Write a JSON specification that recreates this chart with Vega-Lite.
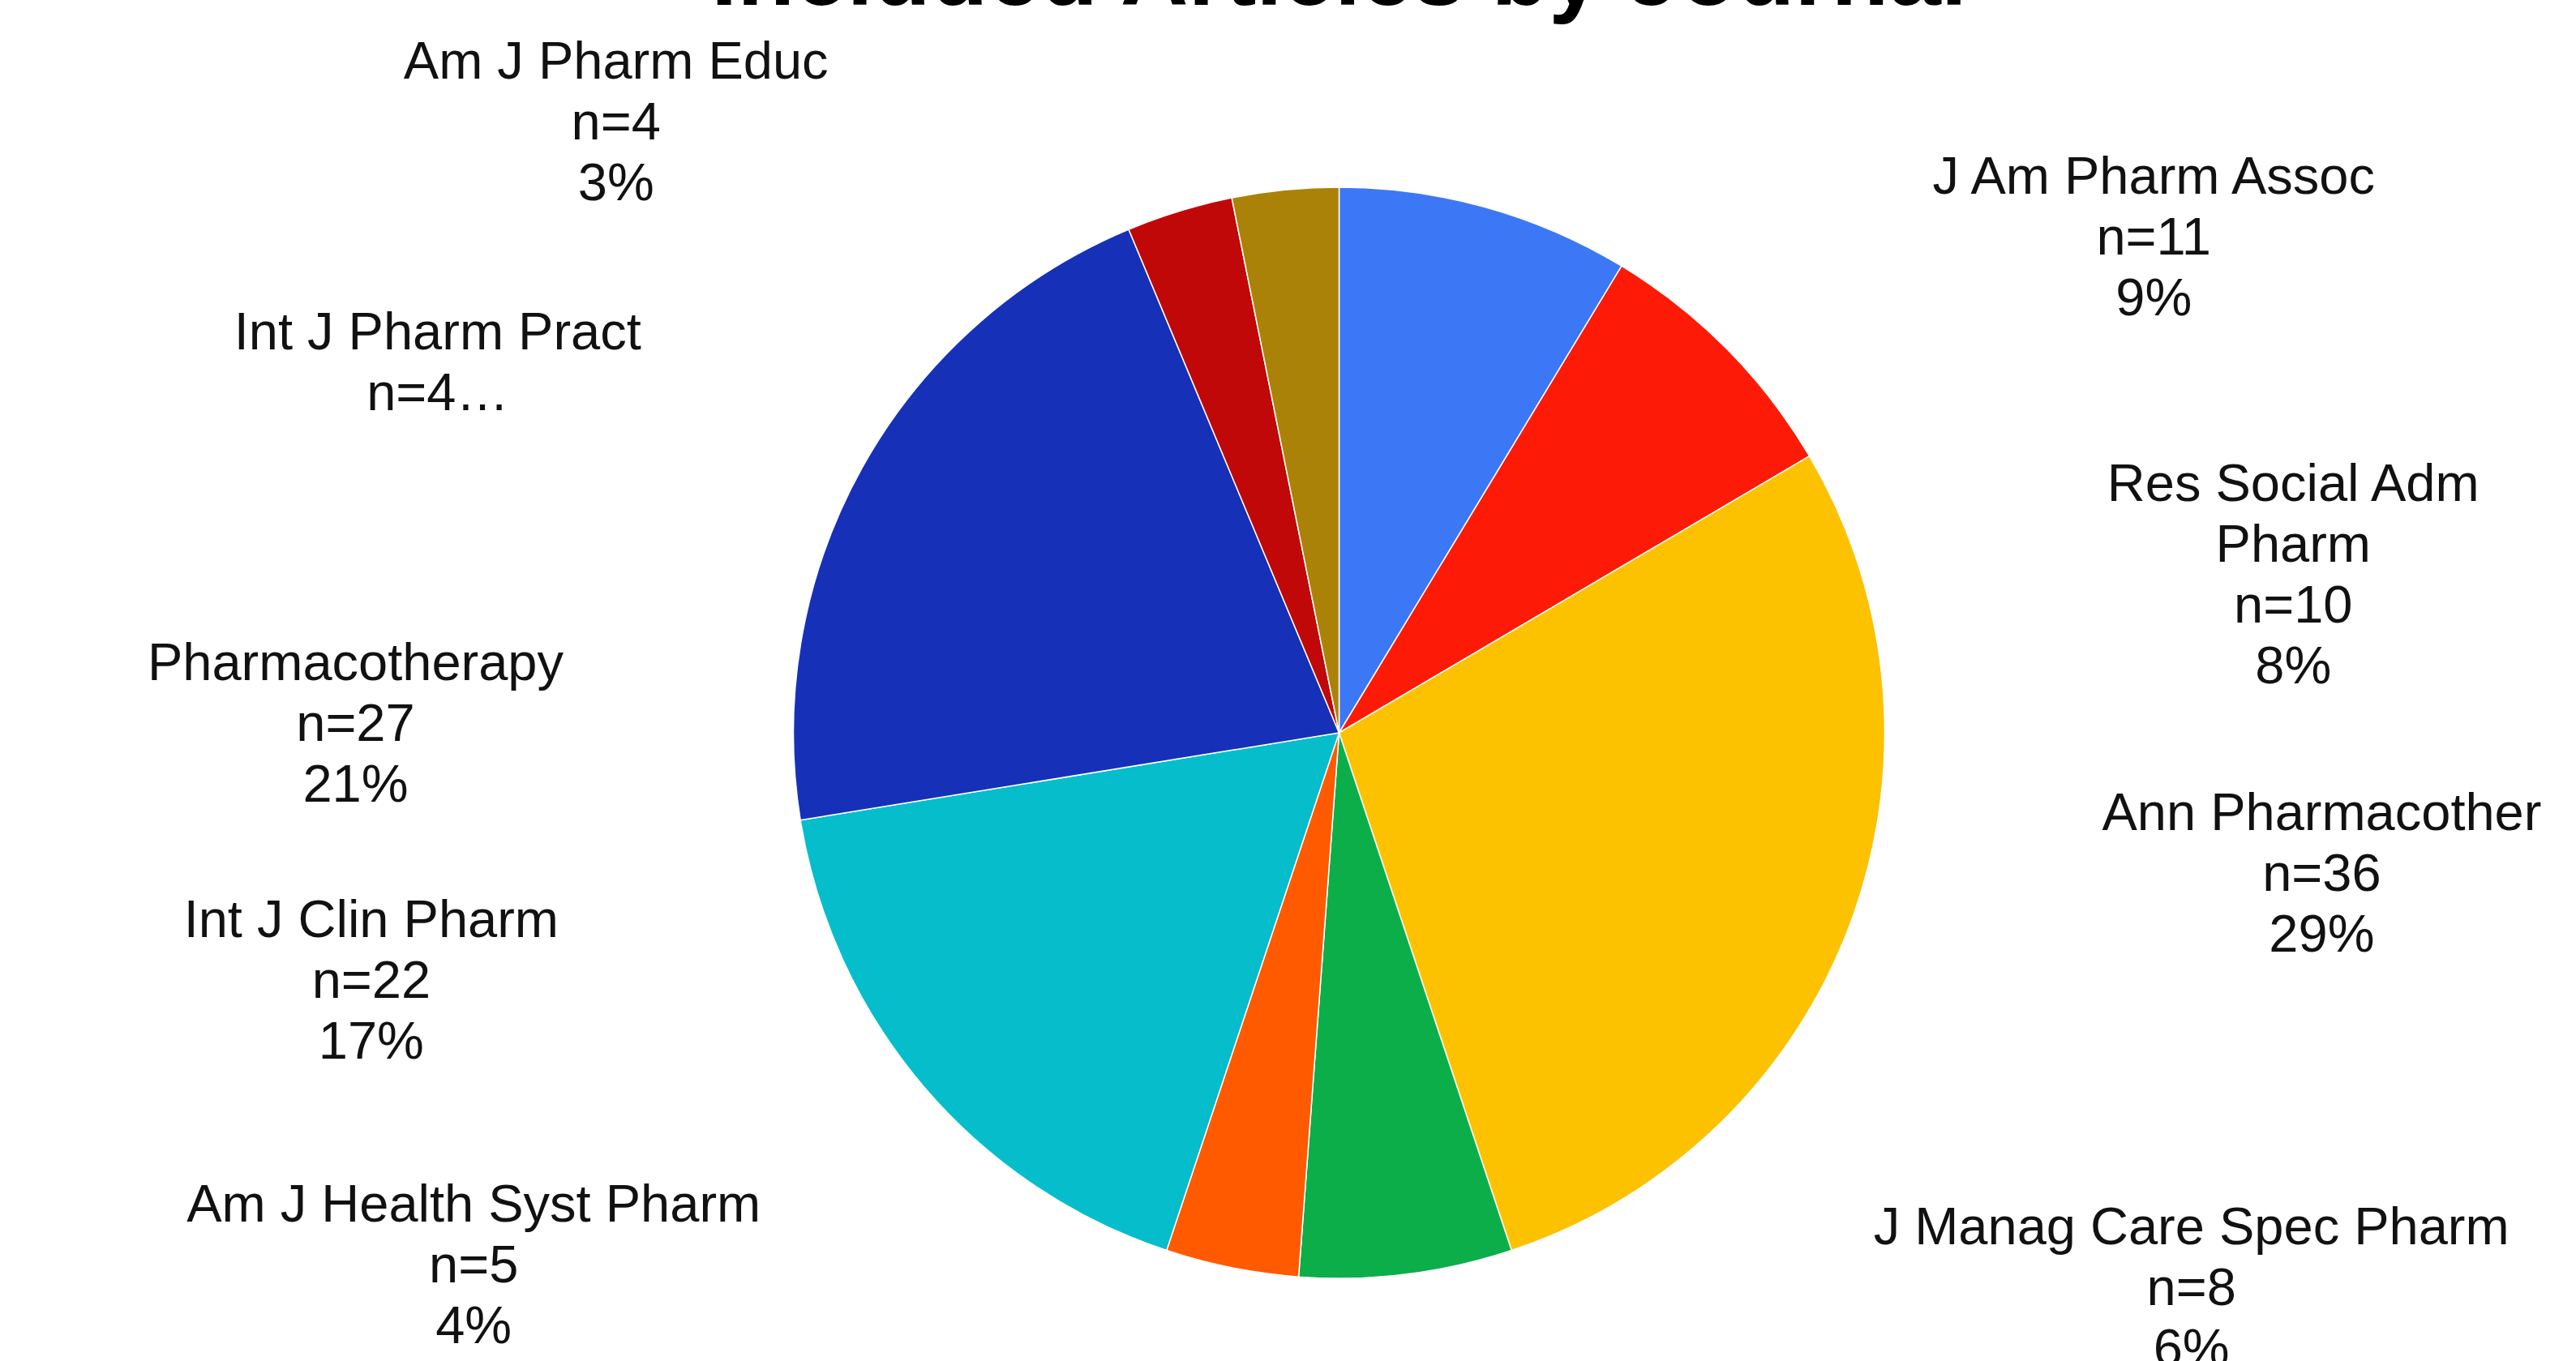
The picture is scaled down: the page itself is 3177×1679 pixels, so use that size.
{
  "$schema": "https://vega.github.io/schema/vega-lite/v6.json",
  "autosize": {"type": "none"},
  "width": 3051,
  "height": 1550,
  "padding": {"top": 129, "left": 126, "right": 0, "bottom": 0},
  "background": "white",
  "title": {
    "text": "Included Articles by Journal",
    "font": "Liberation Sans",
    "fontSize": 116,
    "fontWeight": "bold",
    "color": "#000000",
    "anchor": "middle",
    "offset": 15
  },
  "config": {"view": {"stroke": null}},
  "data": {
    "values": [
      {"idx": 1, "journal": "J Am Pharm Assoc", "n": 11, "pct": 9, "label": "J Am Pharm Assoc\nn=11\n9%"},
      {"idx": 2, "journal": "Res Social Adm Pharm", "n": 10, "pct": 8, "label": "Res Social Adm\nPharm\nn=10\n8%"},
      {"idx": 3, "journal": "Ann Pharmacother", "n": 36, "pct": 29, "label": "Ann Pharmacother\nn=36\n29%"},
      {"idx": 4, "journal": "J Manag Care Spec Pharm", "n": 8, "pct": 6, "label": "J Manag Care Spec Pharm\nn=8\n6%"},
      {"idx": 5, "journal": "Am J Health Syst Pharm", "n": 5, "pct": 4, "label": "Am J Health Syst Pharm\nn=5\n4%"},
      {"idx": 6, "journal": "Int J Clin Pharm", "n": 22, "pct": 17, "label": "Int J Clin Pharm\nn=22\n17%"},
      {"idx": 7, "journal": "Pharmacotherapy", "n": 27, "pct": 21, "label": "Pharmacotherapy\nn=27\n21%"},
      {"idx": 8, "journal": "Int J Pharm Pract", "n": 4, "pct": 3, "label": "Int J Pharm Pract\nn=4…"},
      {"idx": 9, "journal": "Am J Pharm Educ", "n": 4, "pct": 3, "label": "Am J Pharm Educ\nn=4\n3%"}
    ]
  },
  "layer": [
    {
      "mark": {"type": "arc", "radius": 673, "stroke": "#ffffff", "strokeWidth": 1.5},
      "encoding": {
        "theta": {"field": "n", "type": "quantitative", "stack": true},
        "order": {"field": "idx", "type": "quantitative", "sort": "ascending"},
        "color": {
          "field": "journal",
          "type": "nominal",
          "legend": null,
          "scale": {
            "domain": ["J Am Pharm Assoc", "Res Social Adm Pharm", "Ann Pharmacother", "J Manag Care Spec Pharm", "Am J Health Syst Pharm", "Int J Clin Pharm", "Pharmacotherapy", "Int J Pharm Pract", "Am J Pharm Educ"],
            "range": ["#3c78f5", "#fd1a06", "#fcc200", "#0cae4a", "#ff5a00", "#06bdcc", "#1631b8", "#c00808", "#ab8208"]
          }
        }
      }
    },
    {
      "mark": {"type": "text", "radius": 1216, "font": "Liberation Sans", "fontSize": 65, "lineHeight": 75, "lineBreak": "\n", "align": "center", "baseline": "middle", "color": "#111111"},
      "encoding": {
        "theta": {
          "field": "n",
          "type": "quantitative",
          "stack": true,
          "scale": {
            "domain": [0, 16, 39, 63, 64, 81, 105.5, 121, 127],
            "range": [0.7924, 1.3160, 1.6528, 2.1380, 4.1329, 4.5204, 4.7822, 5.1295, 5.6251]
          }
        },
        "order": {"field": "idx", "type": "quantitative", "sort": "ascending"},
        "detail": {"field": "journal", "type": "nominal"},
        "text": {"field": "label", "type": "nominal"}
      }
    }
  ],
  "resolve": {"scale": {"theta": "independent"}}
}
